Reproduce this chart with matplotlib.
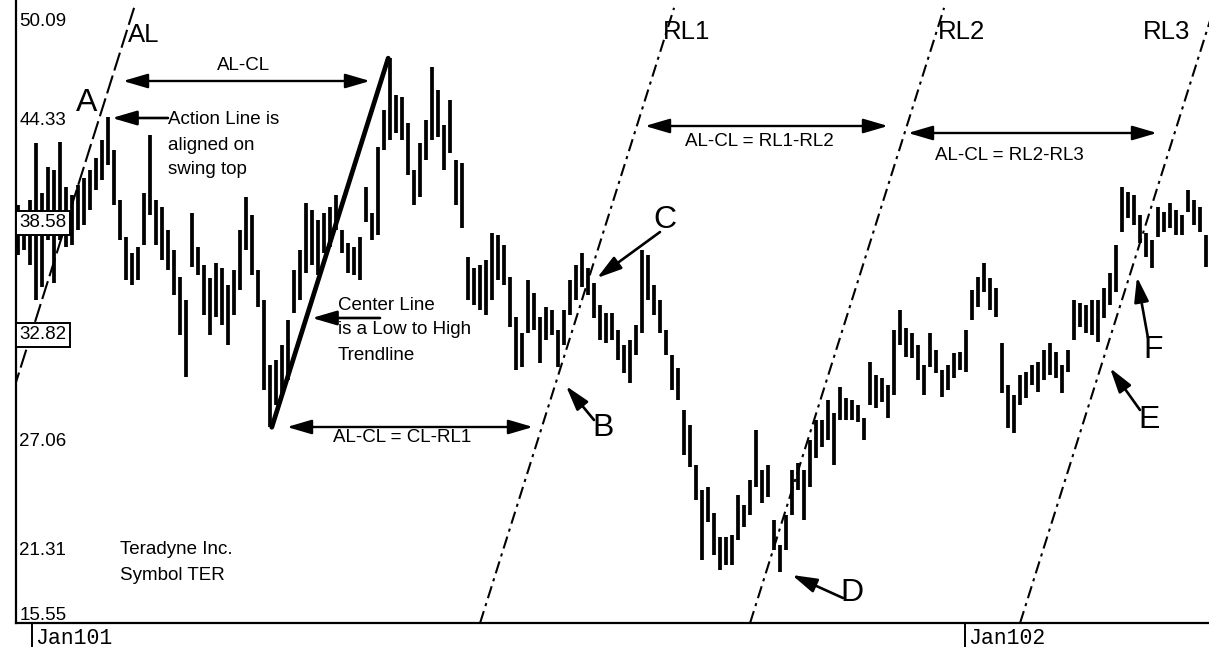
import numpy as np
import matplotlib
matplotlib.use("Agg")
import matplotlib.pyplot as plt

plt.rcParams['font.family'] = ['Liberation Sans', 'DejaVu Sans']

# ---- data: high/low bars of Teradyne (TER) ----
highs = [39.82, 39.55, 40.09, 43.15, 40.46, 41.86, 41.70, 43.20, 40.79, 40.36,
         40.89, 41.27, 41.70, 42.34, 43.31, 44.54, 42.77, 40.09, 38.10, 37.25,
         37.57, 40.46, 43.58, 40.09, 39.71, 38.48, 37.41, 35.96, 34.73, 39.39,
         37.57, 36.60, 35.90, 36.71, 36.44, 35.53, 36.33, 38.48, 40.25, 39.29,
         36.33, 34.73, 31.24, 31.51, 32.31, 33.65, 36.33, 37.41, 39.93, 39.55,
         39.02, 39.39, 39.71, 40.36, 38.48, 37.78, 37.57, 38.10, 40.79, 39.39,
         42.93, 44.92, 47.71, 45.72, 45.62, 44.22, 41.70, 43.15, 44.38, 47.23,
         45.99, 44.11, 45.46, 42.24, 42.07, 37.03, 36.44, 36.60, 36.87, 38.32,
         38.21, 37.68, 35.96, 33.81, 32.95, 35.80, 35.10, 33.81, 34.35, 34.19,
         33.12, 34.19, 35.80, 36.60, 37.25, 36.44, 35.64, 34.46, 34.03, 34.03,
         33.12, 32.31, 32.58, 33.38, 37.41, 37.14, 35.53, 34.73, 33.12, 31.77,
         31.08, 28.82, 28.02, 25.87, 24.53, 24.69, 23.30, 22.01, 22.01, 22.12,
         24.26, 23.73, 25.07, 27.75, 25.60, 25.87, 22.92, 21.58, 23.19, 25.60,
         25.98, 25.60, 27.21, 28.29, 28.29, 29.36, 28.66, 30.06, 29.47, 29.36,
         29.09, 28.39, 31.40, 30.70, 30.54, 30.16, 33.12, 34.19, 33.22, 32.95,
         32.31, 31.24, 32.95, 32.04, 30.97, 31.24, 31.88, 31.93, 33.12, 35.26,
         35.96, 36.71, 35.90, 35.37, 32.42, 30.16, 29.63, 30.70, 30.86, 31.24,
         31.40, 32.04, 32.42, 31.93, 31.24, 32.04, 34.73, 34.57, 34.46, 34.73,
         34.73, 35.37, 36.17, 37.68, 40.79, 40.52, 40.36, 39.29, 38.32, 37.94,
         39.71, 39.44, 39.93, 39.55, 39.29, 40.63, 40.09, 39.71, 38.21]
lows = [37.14, 37.41, 36.60, 34.73, 35.42, 37.94, 35.64, 37.94, 37.57, 37.68,
        38.48, 38.75, 39.55, 40.63, 41.16, 41.97, 39.82, 37.94, 35.80, 35.53,
        35.80, 37.68, 39.29, 37.68, 36.87, 36.33, 34.99, 32.85, 30.59, 36.49,
        36.07, 33.92, 32.85, 33.81, 33.38, 32.31, 33.92, 35.26, 37.41, 36.07,
        34.35, 29.90, 27.91, 29.09, 29.73, 30.43, 34.03, 34.73, 36.17, 36.60,
        36.07, 37.25, 37.57, 38.48, 37.25, 36.17, 36.07, 35.80, 38.91, 37.94,
        38.21, 42.77, 43.31, 43.68, 43.31, 41.43, 39.82, 40.25, 42.24, 43.31,
        43.47, 41.70, 42.61, 39.82, 38.59, 34.73, 34.46, 34.19, 33.92, 34.73,
        35.80, 35.53, 33.28, 30.97, 31.13, 32.95, 33.12, 31.34, 32.58, 32.85,
        31.13, 32.31, 33.92, 34.73, 35.42, 34.99, 33.76, 32.58, 32.42, 32.58,
        31.51, 30.81, 30.27, 31.77, 32.95, 34.73, 33.92, 32.95, 31.77, 29.90,
        29.36, 26.41, 25.76, 23.99, 20.77, 22.81, 21.04, 20.24, 20.50, 20.50,
        21.85, 22.55, 23.19, 24.69, 23.83, 24.15, 21.31, 20.13, 21.31, 23.19,
        24.53, 22.92, 24.69, 26.25, 26.84, 27.21, 25.87, 28.29, 28.29, 28.29,
        28.18, 27.21, 29.09, 28.93, 29.25, 28.39, 29.63, 32.31, 31.67, 31.61,
        30.43, 29.63, 31.13, 30.81, 29.52, 29.90, 30.54, 30.97, 30.86, 33.65,
        34.35, 35.15, 34.19, 33.81, 29.74, 27.86, 27.59, 29.09, 29.47, 30.16,
        29.79, 30.43, 30.70, 30.54, 29.74, 30.86, 32.58, 33.28, 32.95, 32.85,
        32.47, 33.76, 34.46, 35.15, 38.37, 39.12, 38.75, 37.78, 37.03, 36.44,
        38.10, 38.37, 38.59, 38.21, 38.21, 39.44, 38.75, 38.37, 36.49]
bar_idx = np.arange(len(highs))

# y-axis labels and their printed positions
ytick_labels = ['50.09', '44.33', '38.58', '32.82', '27.06', '21.31', '15.55']
ytick_pos = [49.69, 44.33, 38.86, 32.85, 27.11, 21.31, 17.82]
boxed_labels = ['38.58', '32.82']

# x-axis (bar index where a new year starts)
year_labels = ['Jan101', 'Jan102']
year_pos = [2.33, 157.83]

# Andrews pitchfork-style pivots (bar index, price): low and high of Center Line
cl_low = (42.3, 27.9)
cl_high = (61.7, 47.7)
line_spacing = 45.0          # AL-CL horizontal distance in bars

YMIN, YMAX = 17.40, 50.82
XMIN, XMAX = -0.333, 198.5

W, H = 1209, 647
fig = plt.figure(figsize=(W / 100, H / 100), dpi=100)
ax = fig.add_axes([16 / W, 24 / H, (W - 16) / W, 623 / H])
ax.set_xlim(XMIN, XMAX)
ax.set_ylim(YMIN, YMAX)
for s in ['top', 'right']:
    ax.spines[s].set_visible(False)
ax.spines['left'].set_linewidth(1.6)
ax.spines['bottom'].set_linewidth(1.6)
ax.set_yticks([])
ax.set_xticks(year_pos)
ax.set_xticklabels([])
ax.tick_params(axis='x', direction='out', length=17, width=1.4, color='black')

# price bars
ax.vlines(bar_idx, lows, highs, color='black', linewidth=2.7)

# Center line and parallel action/reaction lines
slope = (cl_high[1] - cl_low[1]) / (cl_high[0] - cl_low[0])
def x_at(price, offset):
    return cl_low[0] + offset + (price - cl_low[1]) / slope

ax.plot([cl_low[0], cl_high[0]], [cl_low[1], cl_high[1]], color='black',
        linewidth=3.4, solid_capstyle='round')
p_top = 50.4
ax.plot([x_at(YMIN, -line_spacing), x_at(p_top, -line_spacing)], [YMIN, p_top],
        color='black', linewidth=1.5, dashes=(9, 2.5))
for k in (1, 2, 3):
    ax.plot([x_at(YMIN, k * line_spacing), x_at(p_top, k * line_spacing)], [YMIN, p_top],
            color='black', linewidth=1.5, dashes=(6, 2.5, 1.5, 2.5))

# y labels
ytr = ax.get_yaxis_transform()
for lab, pos in zip(ytick_labels, ytick_pos):
    bb = None
    if lab in boxed_labels:
        bb = dict(boxstyle='square,pad=0.2', facecolor='white', edgecolor='black', linewidth=1.4)
    ax.text(0.0028, pos, lab, transform=ytr, ha='left', va='center', fontsize=13.5, bbox=bb, zorder=5)

# year labels
xtr = ax.get_xaxis_transform()
for lab, pos in zip(year_labels, year_pos):
    ax.text(pos + 0.6, -0.008, lab, transform=xtr, ha='left', va='top',
            fontsize=15.5, family='Liberation Mono')

# ---- annotations (reference-pixel coordinates) ----
def P(x, y):
    return (x / W, 1 - y / H)

def txt(x, y, s, size=13.5, ha='left', va='center', **kw):
    fig.text(x / W, 1 - y / H, s, fontsize=size, ha=ha, va=va, **kw)

def darrow(x1, x2, y):
    ax.annotate('', xy=P(x2, y), xytext=P(x1, y), xycoords='figure fraction',
                textcoords='figure fraction',
                arrowprops=dict(arrowstyle='<|-|>,head_length=0.75,head_width=0.22',
                                mutation_scale=20, lw=1.7, color='black', shrinkA=0, shrinkB=0))

def sarrow(xt, yt, xh, yh):
    ax.annotate('', xy=P(xh, yh), xytext=P(xt, yt), xycoords='figure fraction',
                textcoords='figure fraction',
                arrowprops=dict(arrowstyle='-|>,head_length=0.75,head_width=0.22',
                                mutation_scale=20, lw=1.9, color='black', shrinkA=0, shrinkB=0))

txt(128, 35, 'AL', 18.5)
txt(663, 32, 'RL1', 18.5)
txt(938, 32, 'RL2', 18.5)
txt(1143, 32, 'RL3', 18.5)

for letter, lx, ly in [('A', 87, 103), ('B', 603, 428), ('C', 665, 220),
                       ('D', 852, 593), ('E', 1149, 420), ('F', 1153, 350)]:
    txt(lx, ly, letter, 23, ha='center')

sarrow(660, 232, 597, 278)
sarrow(594, 420, 566, 386)
sarrow(843, 598, 792, 575)
sarrow(1140, 410, 1110, 368)
sarrow(1148, 338, 1137, 277)

txt(244, 66, 'AL-CL', 13.5, ha='center')
darrow(123, 370, 81)
txt(168, 120, 'Action Line is')
txt(168, 146, 'aligned on')
txt(168, 170, 'swing top')
sarrow(168, 118, 112, 118)

txt(338, 306, 'Center Line')
txt(338, 330, 'is a Low to High')
txt(338, 355, 'Trendline')
sarrow(380, 318, 312, 318)

darrow(287, 533, 427)
txt(333, 437, 'AL-CL = CL-RL1')
darrow(645, 888, 126)
txt(685, 142, 'AL-CL = RL1-RL2')
darrow(908, 1157, 133)
txt(935, 155, 'AL-CL = RL2-RL3')

txt(120, 550, 'Teradyne Inc.')
txt(120, 576, 'Symbol TER')

fig.savefig('out.png', dpi=100, facecolor='white')
